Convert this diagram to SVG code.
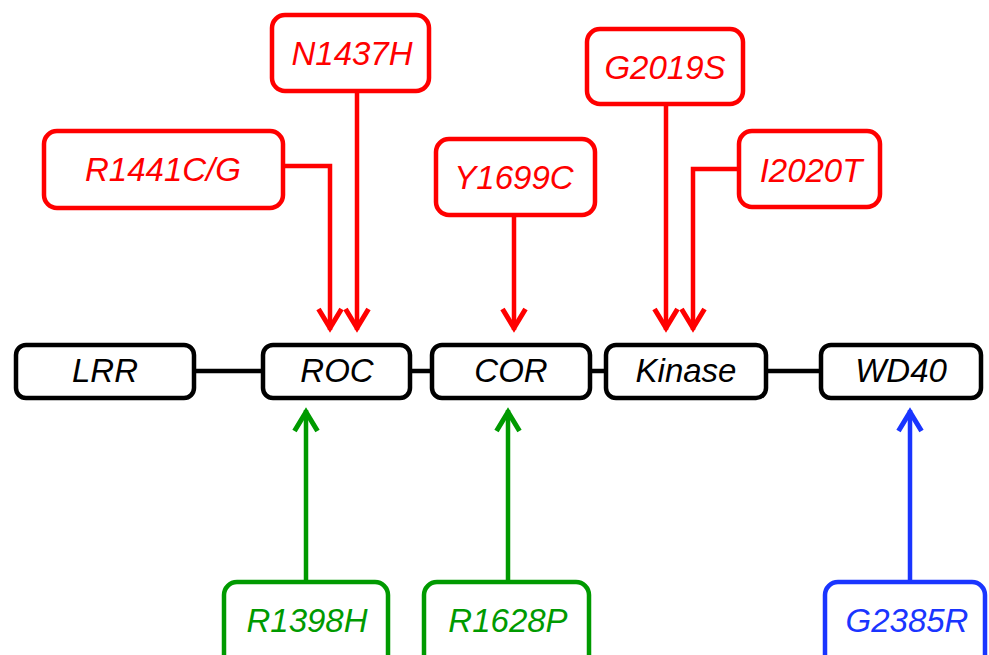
<svg xmlns="http://www.w3.org/2000/svg" width="989" height="655" viewBox="0 0 989 655">
<style>
.box{fill:#fff;stroke-width:4.5}
.k{stroke:#000}
.r{stroke:#ff0000}
.g{stroke:#009a00}
.b{stroke:#1a35ff}
text{font-family:"Liberation Sans",Arial,sans-serif;font-style:italic;font-size:33px;text-anchor:middle}
.tk{fill:#000}.tr{fill:#ff0000}.tg{fill:#009a00}.tb{fill:#1a35ff}
.c{fill:none;stroke-width:4.5}
</style>
<defs>
<marker id="arR" viewBox="0 0 28 28" refX="14" refY="24" markerWidth="28" markerHeight="28" markerUnits="userSpaceOnUse" orient="0"><path d="M2.5,3 L14,22 L25.5,3" fill="none" stroke="#ff0000" stroke-width="5"/></marker>
<marker id="arG" viewBox="0 0 28 28" refX="14" refY="4" markerWidth="28" markerHeight="28" markerUnits="userSpaceOnUse" orient="0"><path d="M2.5,25 L14,6 L25.5,25" fill="none" stroke="#009a00" stroke-width="5"/></marker>
<marker id="arB" viewBox="0 0 28 28" refX="14" refY="4" markerWidth="28" markerHeight="28" markerUnits="userSpaceOnUse" orient="0"><path d="M2.5,25 L14,6 L25.5,25" fill="none" stroke="#1a35ff" stroke-width="5"/></marker>
</defs>
<g id="connectors">
<path class="c k" d="M194,371 H263 M410,371 H432 M590,371 H606 M766,371 H821"/>
<path class="c r" d="M283,166 H330 V330" marker-end="url(#arR)"/>
<path class="c r" d="M357,91 V330" marker-end="url(#arR)"/>
<path class="c r" d="M514,215 V330" marker-end="url(#arR)"/>
<path class="c r" d="M666,104 V330" marker-end="url(#arR)"/>
<path class="c r" d="M739,169 H693 V330" marker-end="url(#arR)"/>
<path class="c g" d="M306,582 V410" marker-end="url(#arG)"/>
<path class="c g" d="M508,582 V410" marker-end="url(#arG)"/>
<path class="c b" d="M910,582 V410" marker-end="url(#arB)"/>
</g>
<g id="LRR"><rect class="box k" x="16" y="345" width="178" height="53" rx="10"/><text class="tk" x="105" y="382">LRR</text></g>
<g id="ROC"><rect class="box k" x="263" y="345" width="147" height="53" rx="10"/><text class="tk" x="337" y="382">ROC</text></g>
<g id="COR"><rect class="box k" x="432" y="345" width="158" height="53" rx="10"/><text class="tk" x="511" y="382">COR</text></g>
<g id="Kinase"><rect class="box k" x="606" y="345" width="160" height="53" rx="10"/><text class="tk" x="686" y="382">Kinase</text></g>
<g id="WD40"><rect class="box k" x="821" y="345" width="160" height="53" rx="10"/><text class="tk" x="901" y="382">WD40</text></g>
<g id="N1437H"><rect class="box r" x="272" y="15" width="157" height="76" rx="13"/><text class="tr" x="352" y="65">N1437H</text></g>
<g id="R1441CG"><rect class="box r" x="44" y="131" width="239" height="77" rx="13"/><text class="tr" x="163" y="181">R1441C/G</text></g>
<g id="Y1699C"><rect class="box r" x="436" y="139" width="159" height="76" rx="13"/><text class="tr" x="514" y="189">Y1699C</text></g>
<g id="G2019S"><rect class="box r" x="587" y="29" width="156" height="75" rx="13"/><text class="tr" x="665" y="79">G2019S</text></g>
<g id="I2020T"><rect class="box r" x="739" y="131" width="141" height="76" rx="13"/><text class="tr" x="811" y="182">I2020T</text></g>
<g id="R1398H"><rect class="box g" x="224" y="582" width="164" height="100" rx="13"/><text class="tg" x="307" y="632">R1398H</text></g>
<g id="R1628P"><rect class="box g" x="424" y="582" width="165" height="100" rx="13"/><text class="tg" x="508" y="632">R1628P</text></g>
<g id="G2385R"><rect class="box b" x="825" y="582" width="160" height="100" rx="13"/><text class="tb" x="907" y="632">G2385R</text></g>
</svg>
